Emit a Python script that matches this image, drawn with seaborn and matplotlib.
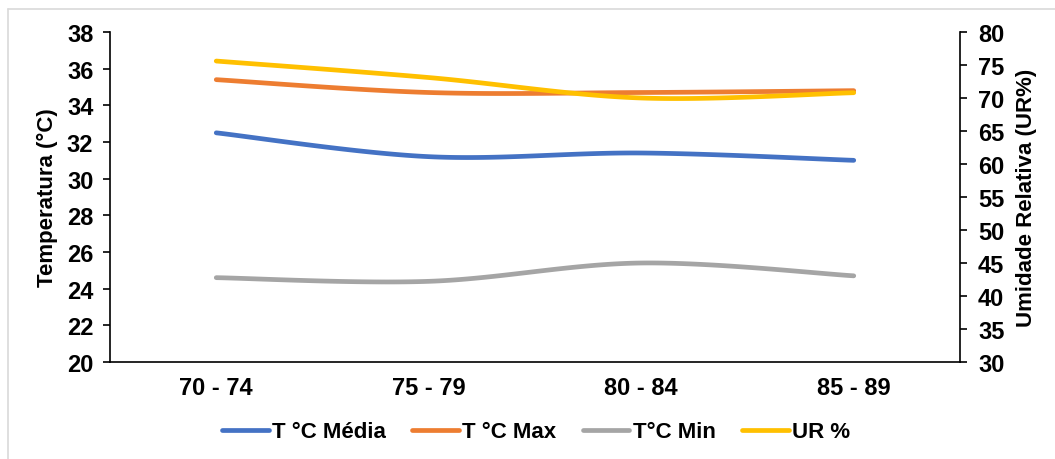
import numpy as np
import pandas as pd
import seaborn as sns
import matplotlib.pyplot as plt
from matplotlib.lines import Line2D

# data
categories = ["70 - 74", "75 - 79", "80 - 84", "85 - 89"]
t_media = [32.5, 31.2, 31.4, 31.0]
t_max = [35.4, 34.7, 34.7, 34.8]
t_min = [24.6, 24.4, 25.4, 24.7]
ur = [75.6, 73.1, 70.0, 70.8]

sns.set_style("white")
plt.rcParams["font.family"] = ["Liberation Sans", "DejaVu Sans"]
plt.rcParams["font.weight"] = "bold"
plt.rcParams["text.color"] = "black"
plt.rcParams["xtick.color"] = "black"
plt.rcParams["ytick.color"] = "black"
plt.rcParams["axes.labelcolor"] = "black"


def smooth(vals, n=40):
    # excel style smoothed line (catmull-rom through bezier segments)
    p = np.array(vals, dtype=float)
    x = np.arange(len(p), dtype=float)
    pts = np.column_stack([x, p])
    ext = np.vstack([pts[0], pts, pts[-1]])
    out = []
    t = np.linspace(0, 1, n)
    for i in range(len(pts) - 1):
        p0, p1, p2, p3 = ext[i], ext[i + 1], ext[i + 2], ext[i + 3]
        c1 = p1 + (p2 - p0) / 6
        c2 = p2 - (p3 - p1) / 6
        seg = ((1 - t) ** 3)[:, None] * p1 + (3 * (1 - t) ** 2 * t)[:, None] * c1 \
            + (3 * (1 - t) * t ** 2)[:, None] * c2 + (t ** 3)[:, None] * p2
        out.append(seg if i == 0 else seg[1:])
    s = np.vstack(out)
    return s[:, 0], s[:, 1]


fig = plt.figure(figsize=(10.55, 4.6), dpi=100)
ax = fig.add_axes([110 / 1055, 1 - 363 / 460, 850 / 1055, 330 / 460])
ax2 = ax.twinx()

lw = 3.4
series = [
    ("T °C Média", t_media, "#4472C4", ax),
    ("T °C Max", t_max, "#ED7D31", ax),
    ("T°C Min", t_min, "#A5A5A5", ax),
    ("UR %", ur, "#FFC000", ax2),
]
handles = []
for name, vals, col, a in series:
    xs, ys = smooth(vals)
    df = pd.DataFrame({"x": xs, "y": ys})
    sns.lineplot(data=df, x="x", y="y", ax=a, color=col, linewidth=lw,
                 sort=False, solid_capstyle="round")
    handles.append(Line2D([0], [0], color=col, lw=lw, solid_capstyle="round", label=name))

ax.set_xlim(-0.5, len(categories) - 0.5)
ax.set_ylim(20, 38)
ax.set_yticks(np.arange(20, 39, 2))
ax2.set_ylim(30, 80)
ax2.set_yticks(np.arange(30, 81, 5))

ax.set_xticks(np.arange(-0.5, len(categories), 1.0))
ax.set_xticklabels([])
ax.set_xticks(np.arange(len(categories)), minor=True)
ax.set_xticklabels(categories, minor=True)
ax.tick_params(axis="x", which="minor", length=0, pad=10, labelsize=17)
ax.tick_params(axis="x", which="major", length=5, width=1.2, direction="out")
ax.tick_params(axis="y", length=5, width=1.2, direction="out", labelsize=17, pad=7)
ax2.tick_params(axis="y", length=5, width=1.2, direction="out", labelsize=17, pad=8)

for a in (ax, ax2):
    a.set_xlabel("")
    a.set_ylabel("")
    a.spines["top"].set_visible(False)
    for s in ("left", "right", "bottom"):
        a.spines[s].set_color("black")
        a.spines[s].set_linewidth(1.2)
ax.spines["right"].set_visible(False)
ax2.spines["left"].set_visible(False)
ax2.spines["bottom"].set_visible(False)

ax.set_ylabel("Temperatura (°C)", fontsize=16, fontweight="bold", labelpad=6)
ax2.set_ylabel("Umidade Relativa (UR%)", fontsize=16, fontweight="bold", labelpad=8)

fig.legend(handles=handles, loc="center", bbox_to_anchor=(536 / 1055, 1 - 433 / 460),
           ncol=4, frameon=False, fontsize=16, handlelength=2.1, columnspacing=1.2,
           handletextpad=0.14)

# light frame around the chart
fig.add_artist(Line2D([8 / 1055, 8 / 1055], [0, 1 - 10 / 460], transform=fig.transFigure,
                      color="#D9D9D9", lw=1.2))
fig.add_artist(Line2D([8 / 1055, 1], [1 - 10 / 460, 1 - 10 / 460], transform=fig.transFigure,
                      color="#D9D9D9", lw=1.2))

fig.savefig("out.png", dpi=100)
